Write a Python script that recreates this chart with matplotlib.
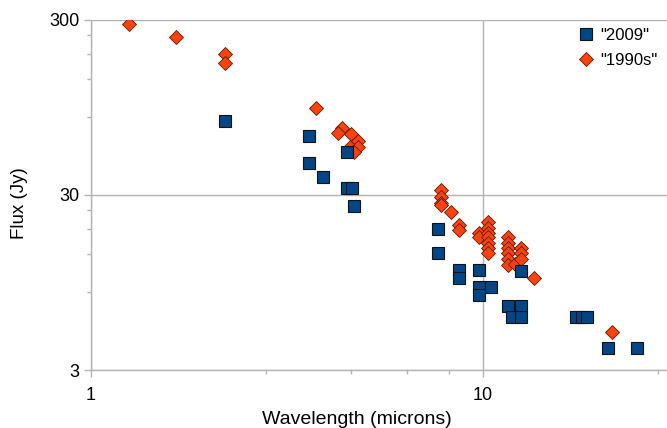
import numpy as np
import matplotlib
matplotlib.use("Agg")
import matplotlib.pyplot as plt
from matplotlib.ticker import FixedLocator, NullFormatter

plt.rcParams['font.family'] = ['Liberation Sans', 'DejaVu Sans']

# "2009" series (squares)
sq_x = [2.20, 3.60, 3.60, 3.91, 4.50, 4.50, 4.64, 4.69, 7.68, 7.68, 8.69, 8.69,
        9.77, 9.77, 9.77, 10.5, 12.5, 11.6, 12.5, 11.9, 12.5, 17.3, 17.9, 18.4,
        20.8, 24.7]
sq_y = [79.4, 65.2, 45.7, 38.0, 52.8, 32.9, 32.9, 26.0, 19.2, 14.0, 11.2, 10.1,
        11.2, 8.94, 8.05, 8.94, 11.0, 6.96, 6.96, 6.03, 6.03, 6.03, 6.03, 6.03,
        4.01, 4.01]

# "1990s" series (diamonds)
dm_x = [1.25, 1.65, 2.20, 2.20, 3.75, 4.37, 4.27, 4.61, 4.80, 4.58, 4.80, 4.69,
        7.81, 7.81, 7.81, 7.81, 8.29, 8.69, 8.69, 9.77, 9.77,
        10.3, 10.3, 10.3, 10.3, 10.3, 10.3, 10.3,
        11.6, 11.6, 11.6, 11.6, 11.6, 11.6, 12.1, 12.5, 12.5, 12.5, 13.5, 21.3]
dm_y = [285, 240, 192, 170, 94.3, 72.4, 67.8, 66.9, 61.1, 56.4, 56.4, 52.8,
        32.0, 29.2, 27.0, 26.3, 24.0, 20.2, 18.9, 18.2, 17.3,
        21.0, 19.4, 18.2, 17.3, 16.0, 14.9, 14.0,
        17.3, 16.0, 14.9, 14.0, 12.9, 11.9, 12.1, 14.9, 14.0, 12.9, 10.1, 4.95]

x_major = [1, 10]
x_minor = [2.8, 4.6, 6.4, 8.2, 28]
y_major = [3, 30, 300]
y_minor = [8.4, 13.8, 19.2, 24.6, 84, 138, 192, 246]

grey = '#b3b3b3'

fig = plt.figure(figsize=(6.67, 4.28), dpi=100)
ax = fig.add_axes([0.1364, 0.1355, 0.8636, 0.8178])
ax.set_xscale('log')
ax.set_yscale('log')
ax.set_xlim(1, 29.5)
ax.set_ylim(3, 300)

ax.plot(dm_x, dm_y, 'D', ms=7, mfc='#ff420e', mec='#5a1a00', mew=0.6,
        label='"1990s"', zorder=3)
ax.plot(sq_x, sq_y, 's', ms=8, mfc='#004586', mec='#111111', mew=0.8,
        label='"2009"', zorder=4)

ax.xaxis.set_major_locator(FixedLocator(x_major))
ax.xaxis.set_minor_locator(FixedLocator(x_minor))
ax.yaxis.set_major_locator(FixedLocator(y_major))
ax.yaxis.set_minor_locator(FixedLocator(y_minor))
ax.set_xticklabels([str(v) for v in x_major])
ax.set_yticklabels([str(v) for v in y_major])
ax.xaxis.set_minor_formatter(NullFormatter())
ax.yaxis.set_minor_formatter(NullFormatter())

ax.tick_params(which='both', color=grey, labelsize=13, direction='out')
ax.tick_params(which='major', length=5, width=1)
ax.tick_params(which='minor', length=3, width=1)
ax.tick_params(axis='x', pad=7)

ax.grid(True, which='major', color=grey, linewidth=1)
for side in ['top', 'right']:
    ax.spines[side].set_visible(False)
for side in ['left', 'bottom']:
    ax.spines[side].set_color(grey)
    ax.spines[side].set_linewidth(1)
ax.set_axisbelow(True)

ax.set_xlabel('Wavelength (microns)', fontsize=14)
ax.set_ylabel('Flux (Jy)', fontsize=13.5)
ax.xaxis.set_label_coords(0.462, -0.118)
ax.yaxis.set_label_coords(-0.11, 0.477)

h, l = ax.get_legend_handles_labels()
ax.legend(h[::-1], l[::-1], loc='upper right', frameon=False, fontsize=12,
          handletextpad=0.3, labelspacing=0.6, bbox_to_anchor=(1.01, 1.02),
          handlelength=1.2)

fig.savefig('out.png', dpi=100, facecolor='white')
